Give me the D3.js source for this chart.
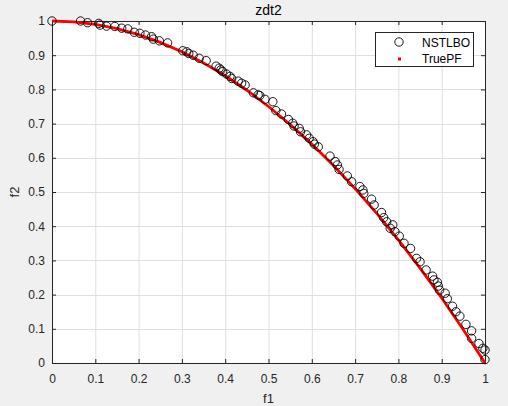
<!DOCTYPE html>
<html><head><meta charset="utf-8">
<script src="https://cdn.jsdelivr.net/npm/d3@7"></script>
<style>body{margin:0;background:#f0f0f0;} svg{display:block;font-family:"Liberation Sans",Arial,sans-serif;}</style>
</head><body>
<svg id="c" width="508" height="406"></svg>
<script>
const title = "zdt2";
const xLabel = "f1", yLabel = "f2";
const xTicks = [0,0.1,0.2,0.3,0.4,0.5,0.6,0.7,0.8,0.9,1];
const yTicks = [0,0.1,0.2,0.3,0.4,0.5,0.6,0.7,0.8,0.9,1];
const seriesNames = ["NSTLBO","TruePF"];
const nstlboF1 = [0.000,0.066,0.082,0.108,0.111,0.126,0.145,0.161,0.175,0.190,0.203,0.216,0.230,0.234,0.248,0.267,0.302,0.311,0.316,0.326,0.340,0.356,0.379,0.386,0.390,0.394,0.403,0.411,0.415,0.430,0.438,0.446,0.465,0.476,0.480,0.492,0.510,0.517,0.530,0.546,0.556,0.559,0.571,0.574,0.588,0.594,0.603,0.606,0.615,0.642,0.654,0.659,0.663,0.682,0.692,0.711,0.718,0.720,0.738,0.744,0.761,0.766,0.773,0.787,0.781,0.792,0.802,0.813,0.828,0.842,0.850,0.864,0.879,0.882,0.890,0.892,0.895,0.908,0.913,0.925,0.933,0.942,0.956,0.969,0.969,0.986,0.995,1.000,1.000];
const nstlboF2 = [1.000,1.000,0.995,0.993,0.988,0.985,0.984,0.979,0.977,0.967,0.964,0.959,0.954,0.947,0.942,0.936,0.913,0.910,0.905,0.900,0.891,0.884,0.868,0.862,0.857,0.852,0.845,0.838,0.832,0.824,0.818,0.813,0.790,0.784,0.782,0.771,0.764,0.738,0.728,0.712,0.701,0.693,0.686,0.676,0.667,0.657,0.647,0.640,0.632,0.605,0.589,0.579,0.566,0.547,0.530,0.516,0.506,0.496,0.479,0.462,0.440,0.425,0.413,0.404,0.394,0.384,0.371,0.350,0.335,0.306,0.296,0.272,0.254,0.243,0.236,0.225,0.213,0.204,0.188,0.166,0.150,0.137,0.113,0.094,0.072,0.057,0.043,0.038,0.010];
const trueF1 = [0,0.05,0.1,0.15,0.2,0.25,0.3,0.35,0.4,0.45,0.5,0.55,0.6,0.65,0.7,0.75,0.8,0.85,0.9,0.95,1];
const trueF2 = [1,0.9975,0.99,0.9775,0.96,0.9375,0.91,0.8775,0.84,0.7975,0.75,0.6975,0.64,0.5775,0.51,0.4375,0.36,0.2775,0.19,0.0975,0];

const svg = d3.select("#c");
const L=52, R=485, T=21, B=363;
const x = d3.scaleLinear().domain([0,1]).range([L,R]);
const y = d3.scaleLinear().domain([0,1]).range([B,T]);
const axisCol="#262626";

svg.append("rect").attr("x",L).attr("y",T).attr("width",R-L).attr("height",B-T).attr("fill","#fff");

// grid
const g = svg.append("g");
g.selectAll(".gx").data(xTicks.slice(1,-1)).enter().append("line")
 .attr("x1",d=>x(d)+0.5).attr("x2",d=>x(d)+0.5).attr("y1",T).attr("y2",B).attr("stroke","#dfdfdf");
g.selectAll(".gy").data(yTicks.slice(1,-1)).enter().append("line")
 .attr("y1",d=>Math.round(y(d))+0.5).attr("y2",d=>Math.round(y(d))+0.5).attr("x1",L).attr("x2",R).attr("stroke","#dfdfdf");

// axes
const fmt = d=>String(d);
const ax = svg.append("g").attr("transform",`translate(0,${B})`).call(d3.axisBottom(x).tickValues(xTicks).tickFormat(fmt).tickSizeInner(-4).tickSizeOuter(0).tickPadding(11));
const ay = svg.append("g").attr("transform",`translate(${L},0)`).call(d3.axisLeft(y).tickValues(yTicks).tickFormat(fmt).tickSizeInner(-4).tickSizeOuter(0).tickPadding(7));
const axTop = svg.append("g").attr("transform",`translate(0,${T})`).call(d3.axisTop(x).tickValues(xTicks).tickFormat("").tickSizeInner(-4).tickSizeOuter(0));
const ayR = svg.append("g").attr("transform",`translate(${R},0)`).call(d3.axisRight(y).tickValues(yTicks).tickFormat("").tickSizeInner(-4).tickSizeOuter(0));
[ax,ay,axTop,ayR].forEach(a=>{
  a.select(".domain").attr("stroke",axisCol);
  a.selectAll(".tick line").attr("stroke",axisCol);
  a.selectAll("text").attr("fill",axisCol).style("font-size","12px").style("font-family","Liberation Sans, Arial, sans-serif");
});

// true PF
svg.append("path").datum(trueF1.map((d,i)=>[d,trueF2[i]]))
 .attr("d",d3.line().x(d=>x(d[0])).y(d=>y(d[1])))
 .attr("fill","none").attr("stroke","#ff0000").attr("stroke-width",2.8);

// NSTLBO circles
svg.append("g").selectAll("circle").data(nstlboF1.map((d,i)=>[d,nstlboF2[i]])).enter().append("circle")
 .attr("cx",d=>x(d[0])).attr("cy",d=>y(d[1])).attr("r",4.2)
 .attr("fill","none").attr("stroke","#000").attr("stroke-width",0.9);

// titles
svg.append("text").attr("x",(L+R)/2).attr("y",15).attr("text-anchor","middle").attr("fill","#000").style("font-size","14px").text(title);
svg.append("text").attr("x",(L+R)/2).attr("y",403).attr("text-anchor","middle").attr("fill",axisCol).style("font-size","13px").text(xLabel);
svg.append("text").attr("transform",`translate(19,${(T+B)/2}) rotate(-90)`).attr("text-anchor","middle").attr("fill",axisCol).style("font-size","13px").text(yLabel);

// legend
const lg = svg.append("g");
lg.append("rect").attr("x",375.5).attr("y",32.5).attr("width",98).attr("height",34).attr("fill","#fff").attr("stroke",axisCol);
lg.append("circle").attr("cx",399).attr("cy",42).attr("r",4.2).attr("fill","none").attr("stroke","#000").attr("stroke-width",0.9);
lg.append("rect").attr("x",398).attr("y",57.5).attr("width",3).attr("height",3).attr("fill","#ff0000");
lg.append("text").attr("x",422).attr("y",46.5).attr("fill","#000").style("font-size","12px").text(seriesNames[0]);
lg.append("text").attr("x",422).attr("y",63).attr("fill","#000").style("font-size","12px").text(seriesNames[1]);
</script>
</body></html>
